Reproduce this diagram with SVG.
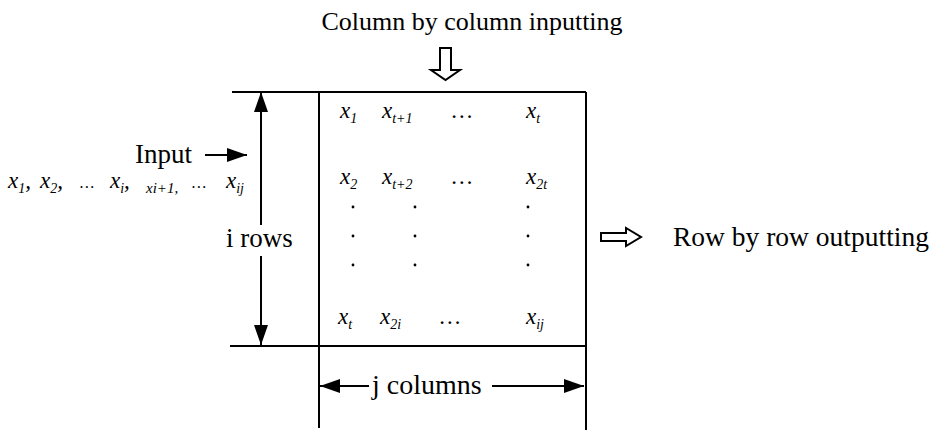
<svg xmlns="http://www.w3.org/2000/svg" width="945" height="430" viewBox="0 0 945 430">
<style>
.lbl{font-family:"Liberation Serif","Times New Roman",serif;font-size:27px;fill:#000}
.ent{font-family:"Liberation Serif","Times New Roman",serif;font-size:23px;font-style:italic;fill:#000}
.sub{font-size:14px}
.ln{stroke:#000;stroke-width:2;fill:none}
.hollow{stroke:#000;stroke-width:2;fill:#fff;stroke-linejoin:miter}
</style>
<defs>
<marker id="ah" viewBox="0 0 20 14" refX="20" refY="7" markerWidth="20" markerHeight="14" markerUnits="userSpaceOnUse" orient="auto">
<path d="M0,0 L20,7 L0,14 Z" fill="#000"/>
</marker>
</defs>
<rect width="945" height="430" fill="#fff"/>
<g id="title">
<text class="lbl" x="472" y="30" text-anchor="middle" style="font-size:26px">Column by column inputting</text>
<path class="hollow" d="M440,48 H451 V70 H460 L445.5,80 L431,70 H440 Z"/>
</g>
<g id="matrix">
<path class="ln" d="M232,92 H586 M319,92 V428 M586,92 V430 M230,346 H586"/>
<text class="ent" x="340" y="118">x<tspan class="sub" dy="5">1</tspan></text>
<text class="ent" x="382" y="118">x<tspan class="sub" dy="5">t+1</tspan></text>
<text class="ent" x="452" y="118">…</text>
<text class="ent" x="526" y="118">x<tspan class="sub" dy="5">t</tspan></text>
<text class="ent" x="340" y="184">x<tspan class="sub" dy="5">2</tspan></text>
<text class="ent" x="382" y="184">x<tspan class="sub" dy="5">t+2</tspan></text>
<text class="ent" x="452" y="184">…</text>
<text class="ent" x="526" y="184">x<tspan class="sub" dy="5">2t</tspan></text>
<g fill="#000">
<circle cx="353" cy="207" r="1.4"/><circle cx="415" cy="207" r="1.4"/><circle cx="528" cy="207" r="1.4"/>
<circle cx="353" cy="236" r="1.4"/><circle cx="415" cy="236" r="1.4"/><circle cx="528" cy="236" r="1.4"/>
<circle cx="353" cy="265" r="1.4"/><circle cx="415" cy="265" r="1.4"/><circle cx="528" cy="265" r="1.4"/>
</g>
<text class="ent" x="338" y="324">x<tspan class="sub" dy="5">t</tspan></text>
<text class="ent" x="380" y="324">x<tspan class="sub" dy="5">2i</tspan></text>
<text class="ent" x="440" y="324">…</text>
<text class="ent" x="526" y="324">x<tspan class="sub" dy="5">ij</tspan></text>
</g>
<g id="input">
<text class="lbl" x="135" y="163">Input</text>
<g class="ent">
<text x="8" y="188">x<tspan class="sub" dy="5">1</tspan><tspan dy="-5">,</tspan></text>
<text x="40" y="188">x<tspan class="sub" dy="5">2</tspan><tspan dy="-5">,</tspan></text>
<text x="80" y="188" style="font-size:16px">…</text>
<text x="110" y="188">x<tspan class="sub" dy="5">i</tspan><tspan dy="-5">,</tspan></text>
<text x="146" y="193" style="font-size:15px">xi+1,</text>
<text x="192" y="188" style="font-size:16px">…</text>
<text x="226" y="188">x<tspan class="sub" dy="5">ij</tspan></text>
</g>
</g>
<g id="irows">
<text class="lbl" x="226" y="247">i rows</text>
</g>
<g id="jcols">
<text class="lbl" x="372" y="394" style="font-size:28px">j columns</text>
</g>
<g id="output">
<path class="hollow" d="M601,233 H626 V228 L641,237 L626,246 V241 H601 Z"/>
<text class="lbl" x="673" y="246" style="font-size:27.5px">Row by row outputting</text>
</g>
<g id="connectors">
<line class="ln" x1="205" y1="155" x2="247" y2="155" marker-end="url(#ah)"/>
<line class="ln" x1="261" y1="225" x2="261" y2="92" marker-end="url(#ah)"/>
<line class="ln" x1="261" y1="256" x2="261" y2="345" marker-end="url(#ah)"/>
<line class="ln" x1="369" y1="386" x2="320" y2="386" marker-end="url(#ah)"/>
<line class="ln" x1="492" y1="386" x2="584" y2="386" marker-end="url(#ah)"/>
</g>
</svg>
